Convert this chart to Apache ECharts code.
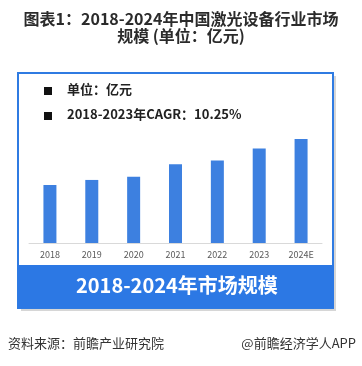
<!DOCTYPE html>
<html><head><meta charset="utf-8">
<script src="https://cdn.jsdelivr.net/npm/echarts@6/dist/echarts.min.js"></script>
<style>html,body{margin:0;padding:0;background:#fff}#c{width:362px;height:366px}</style>
</head><body><div id="c"></div>
<script>
var categories = ['2018','2019','2020','2021','2022','2023','2024E'];
var marketSize = [605, 658, 692, 821, 862, 985, 1085];
var titleLines = ['图表1：2018-2024年中国激光设备行业市场', '规模 (单位：亿元)'];
var noteLines = ['单位：亿元', '2018-2023年CAGR：10.25%'];
var bandText = '2018-2024年市场规模';
var sourceText = '资料来源：前瞻产业研究院';
var brandText = '@前瞻经济学人APP';

var FONT = '"Noto Sans CJK SC", "Noto Sans", sans-serif';
var chart = echarts.init(document.getElementById('c'), null, {renderer:'canvas'});
chart.setOption({
  backgroundColor:'#fff',
  animation:false,
  title:{
    text: titleLines.join('\n'),
    left:'center', top:5,
    textStyle:{fontFamily:FONT, fontSize:16, fontWeight:'bold', color:'#2b2b2b', lineHeight:17}
  },
  grid:{left:29, right:40, top:128, bottom:123},
  xAxis:{
    type:'category', data:categories,
    axisLine:{lineStyle:{color:'#d9d9d9', width:1}},
    axisTick:{show:false},
    axisLabel:{fontFamily:FONT, fontSize:9, color:'#595959', margin:7}
  },
  yAxis:{type:'value', min:0, max:1200, show:false, splitLine:{show:false}},
  series:[{
    type:'bar', data:marketSize, barWidth:13,
    itemStyle:{color:'#3d80e0'}, z:3
  }],
  graphic:[
    {type:'rect', z:-2, shape:{x:21, y:76, width:315, height:235}, style:{fill:'#d6d6d6'}},
    {type:'rect', z:-1, shape:{x:18, y:73, width:315, height:235}, style:{fill:'#fff', stroke:'#2f7be2', lineWidth:2}},
    {type:'rect', z:1, shape:{x:18, y:265, width:316, height:43}, style:{fill:'#2c78e4'}},
    {type:'text', z:2, left:76, top:275, style:{text:bandText, fill:'#fff', font:'bold 20px '+FONT}},
    {type:'rect', z:2, shape:{x:44, y:87, width:8, height:8}, style:{fill:'#111'}},
    {type:'text', z:2, x:67, y:83, style:{text:noteLines[0], fill:'#222', font:'bold 13px '+FONT}},
    {type:'rect', z:2, shape:{x:44, y:112, width:8, height:8}, style:{fill:'#111'}},
    {type:'text', z:2, x:67, y:108, style:{text:noteLines[1], fill:'#222', font:'bold 13px '+FONT}},
    {type:'text', z:2, x:8, y:337, style:{text:sourceText, fill:'#333', font:'13px '+FONT}},
    {type:'text', z:2, right:6, y:337, style:{text:brandText, fill:'#333', font:'13px '+FONT}}
  ]
});
</script></body></html>
